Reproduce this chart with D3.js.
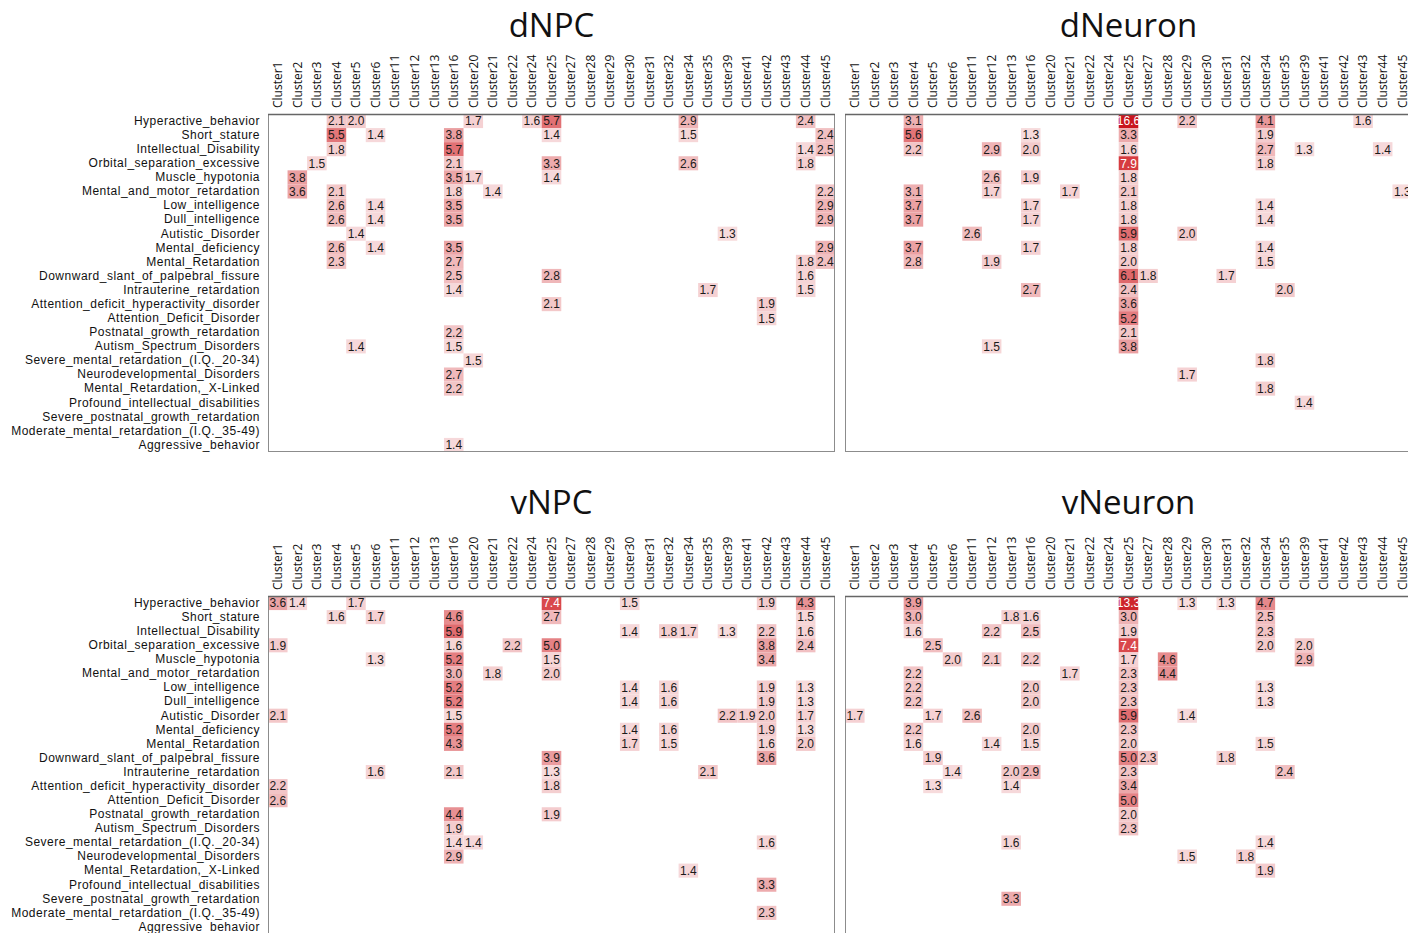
<!DOCTYPE html>
<html>
<head>
<meta charset="utf-8">
<script src="https://cdn.jsdelivr.net/npm/d3@7"></script>
<style>
  html, body { margin: 0; padding: 0; background: #fff; }
  svg { display: block; font-family: "Open Sans", "Noto Sans", sans-serif; }
</style>
</head>
<body>
<svg id="chart" width="1408" height="933"></svg>
<script>
// Cluster columns shared by every panel
const clusters = ["Cluster1","Cluster2","Cluster3","Cluster4","Cluster5","Cluster6","Cluster11","Cluster12",
  "Cluster13","Cluster16","Cluster20","Cluster21","Cluster22","Cluster24","Cluster25","Cluster27","Cluster28",
  "Cluster29","Cluster30","Cluster31","Cluster32","Cluster34","Cluster35","Cluster39","Cluster41","Cluster42",
  "Cluster43","Cluster44","Cluster45"];

// Phenotype terms (rows)
const terms = ["Hyperactive_behavior","Short_stature","Intellectual_Disability","Orbital_separation_excessive",
  "Muscle_hypotonia","Mental_and_motor_retardation","Low_intelligence","Dull_intelligence","Autistic_Disorder",
  "Mental_deficiency","Mental_Retardation","Downward_slant_of_palpebral_fissure","Intrauterine_retardation",
  "Attention_deficit_hyperactivity_disorder","Attention_Deficit_Disorder","Postnatal_growth_retardation",
  "Autism_Spectrum_Disorders","Severe_mental_retardation_(I.Q._20-34)","Neurodevelopmental_Disorders",
  "Mental_Retardation,_X-Linked","Profound_intellectual_disabilities","Severe_postnatal_growth_retardation",
  "Moderate_mental_retardation_(I.Q._35-49)","Aggressive_behavior"];

// Enrichment values, one list of [cluster, value] per term, in term order
const dNPC = [
  [["Cluster4",2.1],["Cluster5",2.0],["Cluster20",1.7],["Cluster24",1.6],["Cluster25",5.7],["Cluster34",2.9],["Cluster44",2.4]],
  [["Cluster4",5.5],["Cluster6",1.4],["Cluster16",3.8],["Cluster25",1.4],["Cluster34",1.5],["Cluster45",2.4]],
  [["Cluster4",1.8],["Cluster16",5.7],["Cluster44",1.4],["Cluster45",2.5]],
  [["Cluster3",1.5],["Cluster16",2.1],["Cluster25",3.3],["Cluster34",2.6],["Cluster44",1.8]],
  [["Cluster2",3.8],["Cluster16",3.5],["Cluster20",1.7],["Cluster25",1.4]],
  [["Cluster2",3.6],["Cluster4",2.1],["Cluster16",1.8],["Cluster21",1.4],["Cluster45",2.2]],
  [["Cluster4",2.6],["Cluster6",1.4],["Cluster16",3.5],["Cluster45",2.9]],
  [["Cluster4",2.6],["Cluster6",1.4],["Cluster16",3.5],["Cluster45",2.9]],
  [["Cluster5",1.4],["Cluster39",1.3]],
  [["Cluster4",2.6],["Cluster6",1.4],["Cluster16",3.5],["Cluster45",2.9]],
  [["Cluster4",2.3],["Cluster16",2.7],["Cluster44",1.8],["Cluster45",2.4]],
  [["Cluster16",2.5],["Cluster25",2.8],["Cluster44",1.6]],
  [["Cluster16",1.4],["Cluster35",1.7],["Cluster44",1.5]],
  [["Cluster25",2.1],["Cluster42",1.9]],
  [["Cluster42",1.5]],
  [["Cluster16",2.2]],
  [["Cluster5",1.4],["Cluster16",1.5]],
  [["Cluster20",1.5]],
  [["Cluster16",2.7]],
  [["Cluster16",2.2]],
  [],
  [],
  [],
  [["Cluster16",1.4]]
];

const dNeuron = [
  [["Cluster4",3.1],["Cluster25",16.6],["Cluster29",2.2],["Cluster34",4.1],["Cluster43",1.6]],
  [["Cluster4",5.6],["Cluster16",1.3],["Cluster25",3.3],["Cluster34",1.9]],
  [["Cluster4",2.2],["Cluster12",2.9],["Cluster16",2.0],["Cluster25",1.6],["Cluster34",2.7],["Cluster39",1.3],["Cluster44",1.4]],
  [["Cluster25",7.9],["Cluster34",1.8]],
  [["Cluster12",2.6],["Cluster16",1.9],["Cluster25",1.8]],
  [["Cluster4",3.1],["Cluster12",1.7],["Cluster21",1.7],["Cluster25",2.1],["Cluster45",1.3]],
  [["Cluster4",3.7],["Cluster16",1.7],["Cluster25",1.8],["Cluster34",1.4]],
  [["Cluster4",3.7],["Cluster16",1.7],["Cluster25",1.8],["Cluster34",1.4]],
  [["Cluster11",2.6],["Cluster25",5.9],["Cluster29",2.0]],
  [["Cluster4",3.7],["Cluster16",1.7],["Cluster25",1.8],["Cluster34",1.4]],
  [["Cluster4",2.8],["Cluster12",1.9],["Cluster25",2.0],["Cluster34",1.5]],
  [["Cluster25",6.1],["Cluster27",1.8],["Cluster31",1.7]],
  [["Cluster16",2.7],["Cluster25",2.4],["Cluster35",2.0]],
  [["Cluster25",3.6]],
  [["Cluster25",5.2]],
  [["Cluster25",2.1]],
  [["Cluster12",1.5],["Cluster25",3.8]],
  [["Cluster34",1.8]],
  [["Cluster29",1.7]],
  [["Cluster34",1.8]],
  [["Cluster39",1.4]],
  [],
  [],
  []
];

const vNPC = [
  [["Cluster1",3.6],["Cluster2",1.4],["Cluster5",1.7],["Cluster25",7.4],["Cluster30",1.5],["Cluster42",1.9],["Cluster44",4.3]],
  [["Cluster4",1.6],["Cluster6",1.7],["Cluster16",4.6],["Cluster25",2.7],["Cluster44",1.5]],
  [["Cluster16",5.9],["Cluster30",1.4],["Cluster32",1.8],["Cluster34",1.7],["Cluster39",1.3],["Cluster42",2.2],["Cluster44",1.6]],
  [["Cluster1",1.9],["Cluster16",1.6],["Cluster22",2.2],["Cluster25",5.0],["Cluster42",3.8],["Cluster44",2.4]],
  [["Cluster6",1.3],["Cluster16",5.2],["Cluster25",1.5],["Cluster42",3.4]],
  [["Cluster16",3.0],["Cluster21",1.8],["Cluster25",2.0]],
  [["Cluster16",5.2],["Cluster30",1.4],["Cluster32",1.6],["Cluster42",1.9],["Cluster44",1.3]],
  [["Cluster16",5.2],["Cluster30",1.4],["Cluster32",1.6],["Cluster42",1.9],["Cluster44",1.3]],
  [["Cluster1",2.1],["Cluster16",1.5],["Cluster39",2.2],["Cluster41",1.9],["Cluster42",2.0],["Cluster44",1.7]],
  [["Cluster16",5.2],["Cluster30",1.4],["Cluster32",1.6],["Cluster42",1.9],["Cluster44",1.3]],
  [["Cluster16",4.3],["Cluster30",1.7],["Cluster32",1.5],["Cluster42",1.6],["Cluster44",2.0]],
  [["Cluster25",3.9],["Cluster42",3.6]],
  [["Cluster6",1.6],["Cluster16",2.1],["Cluster25",1.3],["Cluster35",2.1]],
  [["Cluster1",2.2],["Cluster25",1.8]],
  [["Cluster1",2.6]],
  [["Cluster16",4.4],["Cluster25",1.9]],
  [["Cluster16",1.9]],
  [["Cluster16",1.4],["Cluster20",1.4],["Cluster42",1.6]],
  [["Cluster16",2.9]],
  [["Cluster34",1.4]],
  [["Cluster42",3.3]],
  [],
  [["Cluster42",2.3]],
  []
];

const vNeuron = [
  [["Cluster4",3.9],["Cluster25",13.3],["Cluster29",1.3],["Cluster31",1.3],["Cluster34",4.7]],
  [["Cluster4",3.0],["Cluster13",1.8],["Cluster16",1.6],["Cluster25",3.0],["Cluster34",2.5]],
  [["Cluster4",1.6],["Cluster12",2.2],["Cluster16",2.5],["Cluster25",1.9],["Cluster34",2.3]],
  [["Cluster5",2.5],["Cluster25",7.4],["Cluster34",2.0],["Cluster39",2.0]],
  [["Cluster6",2.0],["Cluster12",2.1],["Cluster16",2.2],["Cluster25",1.7],["Cluster28",4.6],["Cluster39",2.9]],
  [["Cluster4",2.2],["Cluster21",1.7],["Cluster25",2.3],["Cluster28",4.4]],
  [["Cluster4",2.2],["Cluster16",2.0],["Cluster25",2.3],["Cluster34",1.3]],
  [["Cluster4",2.2],["Cluster16",2.0],["Cluster25",2.3],["Cluster34",1.3]],
  [["Cluster1",1.7],["Cluster5",1.7],["Cluster11",2.6],["Cluster25",5.9],["Cluster29",1.4]],
  [["Cluster4",2.2],["Cluster16",2.0],["Cluster25",2.3]],
  [["Cluster4",1.6],["Cluster12",1.4],["Cluster16",1.5],["Cluster25",2.0],["Cluster34",1.5]],
  [["Cluster5",1.9],["Cluster25",5.0],["Cluster27",2.3],["Cluster31",1.8]],
  [["Cluster6",1.4],["Cluster13",2.0],["Cluster16",2.9],["Cluster25",2.3],["Cluster35",2.4]],
  [["Cluster5",1.3],["Cluster13",1.4],["Cluster25",3.4]],
  [["Cluster25",5.0]],
  [["Cluster25",2.0]],
  [["Cluster25",2.3]],
  [["Cluster13",1.6],["Cluster34",1.4]],
  [["Cluster29",1.5],["Cluster32",1.8]],
  [["Cluster34",1.9]],
  [],
  [["Cluster13",3.3]],
  [],
  []
];

const panelTitles = ["dNPC","dNeuron","vNPC","vNeuron"];
const panelData = [dNPC, dNeuron, vNPC, vNeuron];

// Layout of the 2x2 grid
const panelW = 567, panelH = 338;
const panelX = [268, 845];
const panelY = [114, 596];
const titleGap = [77, 82];

const cellFont = "'Liberation Sans', Arial, sans-serif";

const color = d3.scaleLinear()
  .domain([1, 8, 17])
  .range(["#f8e2e3", "#d63a3e", "#c8141c"])
  .clamp(true);

const svg = d3.select("#chart");

panelData.forEach((rowsData, i) => {
  const col = i % 2, rowIdx = Math.floor(i / 2);
  const x0 = panelX[col], y0 = panelY[rowIdx];
  const g = svg.append("g");

  const x = d3.scaleBand().domain(clusters).range([x0, x0 + panelW]);
  const y = d3.scaleBand().domain(terms).range([y0, y0 + panelH]);

  // title
  g.append("text")
    .attr("x", x0 + panelW / 2)
    .attr("y", y0 - titleGap[rowIdx])
    .attr("text-anchor", "middle")
    .style("font-size", "33px")
    .style("fill", "#111")
    .text(panelTitles[i]);

  // flatten into cells
  const cells = [];
  rowsData.forEach((row, r) => row.forEach(([c, v]) => cells.push({ term: terms[r], cluster: c, value: v })));

  g.selectAll("rect.cell").data(cells).join("rect")
    .attr("class", "cell")
    .attr("x", d => x(d.cluster))
    .attr("y", d => y(d.term))
    .attr("width", x.bandwidth())
    .attr("height", y.bandwidth())
    .attr("fill", d => color(d.value));

  g.selectAll("text.val").data(cells).join("text")
    .attr("class", "val")
    .attr("x", d => x(d.cluster) + x.bandwidth() / 2)
    .attr("y", d => y(d.term) + y.bandwidth() / 2)
    .attr("dy", "0.36em")
    .attr("text-anchor", "middle")
    .style("font-family", cellFont)
    .style("font-size", "12px")
    .style("fill", d => d.value >= 7 ? "#fff" : "#1a1a1a")
    .text(d => d3.format(".1f")(d.value));

  // panel frame
  g.append("rect")
    .attr("x", x0 + 0.5).attr("y", y0 + 0.5)
    .attr("width", panelW - 1).attr("height", panelH - 1)
    .attr("fill", "none").attr("stroke", "#8c8c8c").attr("stroke-width", 1);
  g.append("line")
    .attr("x1", x0).attr("x2", x0 + panelW)
    .attr("y1", y0 + 0.5).attr("y2", y0 + 0.5)
    .attr("stroke", "#666").attr("stroke-width", 1.5);

  // cluster labels
  const top = g.append("g").attr("transform", `translate(0,${y0})`)
    .call(d3.axisTop(x).tickSize(0).tickPadding(0));
  top.select(".domain").remove();
  top.selectAll("text")
    .attr("transform", "rotate(-90)")
    .attr("x", 6).attr("y", 0).attr("dy", "0.36em")
    .style("text-anchor", "start")
    .style("font-size", "12px")
    .style("font-family", "'Open Sans', sans-serif")
    .style("fill", "#111");

  // term labels only on the left column of panels
  if (col === 0) {
    const left = g.append("g").attr("transform", `translate(${x0},0)`)
      .call(d3.axisLeft(y).tickSize(0).tickPadding(8));
    left.select(".domain").remove();
    left.selectAll("text")
      .style("font-size", "12px")
      .style("letter-spacing", "0.5px")
      .style("font-family", cellFont)
      .style("fill", "#111");
  }
});
</script>
</body>
</html>
